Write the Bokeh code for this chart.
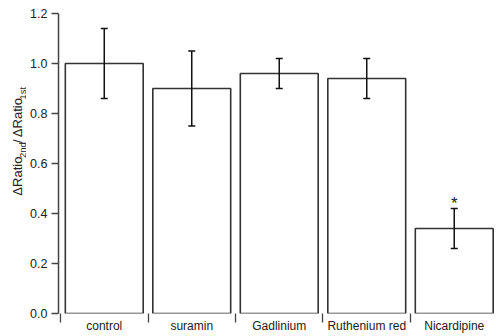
import math
from bokeh.plotting import figure
from bokeh.layouts import row
from bokeh.models import (Range1d, FixedTicker, ColumnDataSource, Whisker, TeeHead,
                          NumeralTickFormatter)
from bokeh.core.properties import value
from bokeh.embed import file_html
from bokeh.resources import INLINE

# ---- data ----
categories = ["control", "suramin", "Gadlinium", "Ruthenium red", "Nicardipine"]
means = [1.00, 0.90, 0.96, 0.94, 0.34]
errors = [0.14, 0.15, 0.06, 0.08, 0.08]
significant = [False, False, False, False, True]
y_ticks = [0.0, 0.2, 0.4, 0.6, 0.8, 1.0, 1.2]
y_label_pieces = ["\u0394Ratio", "2nd", "/", "\u0394Ratio", "1st"]
y_label_is_sub = [False, True, False, False, True]

FONT = "Liberation Sans"
INK = "#222222"
W, H = 496, 336
LABEL_W = 26

xs = [i + 0.5 for i in range(len(categories))]
upper = [m + e for m, e in zip(means, errors)]
lower = [m - e for m, e in zip(means, errors)]
src = ColumnDataSource(dict(x=xs, top=means, upper=upper, lower=lower))

p = figure(width=W - LABEL_W, height=H, output_backend="svg", toolbar_location=None,
           x_range=Range1d(-0.023, 4.983), y_range=Range1d(0, 1.2),
           min_border_left=58 - LABEL_W, min_border_right=0, min_border_top=13,
           min_border_bottom=23)
p.outline_line_color = None
p.xgrid.grid_line_color = None
p.ygrid.grid_line_color = None
p.background_fill_color = "white"
p.border_fill_color = "white"

p.vbar(x="x", top="top", bottom=0, width=0.89, source=src,
       fill_color="white", line_color="#333333", line_width=1.6)

w = Whisker(base="x", upper="upper", lower="lower", source=src, level="overlay",
            line_color="#111111", line_width=1.5,
            upper_head=TeeHead(size=7, line_color="#111111", line_width=1.5),
            lower_head=TeeHead(size=7, line_color="#111111", line_width=1.5))
p.add_layout(w)

star_x = [x for x, s in zip(xs, significant) if s]
star_y = [u for u, s in zip(upper, significant) if s]
p.text(x=star_x, y=star_y, text=["*"] * len(star_x), text_align="center",
       text_baseline="bottom", y_offset=4, text_font=value(FONT),
       text_font_size="17px", text_color=INK)

# y axis
ya = p.yaxis[0]
ya.ticker = FixedTicker(ticks=y_ticks)
ya.formatter = NumeralTickFormatter(format="0.0")
ya.major_tick_in = 0
ya.major_tick_out = 7
ya.minor_tick_line_color = None
ya.axis_line_color = "#444444"
ya.axis_line_width = 1.5
ya.major_tick_line_color = "#444444"
ya.major_tick_line_width = 1.3
ya.major_label_standoff = 4
ya.major_label_text_font = FONT
ya.major_label_text_font_size = "12.5px"
ya.major_label_text_color = INK

# x axis: labels at centres, ticks at category boundaries
xa = p.xaxis[0]
xa.ticker = FixedTicker(ticks=xs, minor_ticks=list(range(len(categories) + 1)))
xa.major_label_overrides = {x: c for x, c in zip(xs, categories)}
xa.axis_line_color = None
xa.major_tick_line_color = None
xa.major_tick_in = 0
xa.major_tick_out = 0
xa.minor_tick_in = 0
xa.minor_tick_out = 9
xa.minor_tick_line_color = "#444444"
xa.minor_tick_line_width = 1.3
xa.major_label_standoff = -4
xa.major_label_text_font = FONT
xa.major_label_text_font_size = "12px"
xa.major_label_text_color = INK

# narrow side figure that carries the rotated y-axis title (with subscripts)
lf = figure(width=LABEL_W, height=H, output_backend="svg", toolbar_location=None,
            x_range=Range1d(0, LABEL_W), y_range=Range1d(0, H),
            min_border=0, min_border_left=0, min_border_right=0,
            min_border_top=0, min_border_bottom=0)
lf.axis.visible = False
lf.grid.visible = False
lf.outline_line_color = None
lf.border_fill_color = "white"
lf.background_fill_color = "white"

em = {"\u0394": 0.668, "R": 0.722, "a": 0.556, "t": 0.278, "i": 0.222, "o": 0.556,
      "2": 0.556, "n": 0.556, "d": 0.556, "/": 0.278, "1": 0.556, "s": 0.5}
main_size, sub_size = 13.0, 9.5
pos = H - 204.0
for txt, sub in zip(y_label_pieces, y_label_is_sub):
    size = sub_size if sub else main_size
    lf.text(x=[21.5 if sub else 16.5], y=[pos], text=[txt], angle=math.pi / 2,
            text_align="left", text_baseline="middle", text_font=value(FONT),
            text_font_size=f"{size}px", text_color=INK)
    pos += sum(em.get(ch, 0.55) for ch in txt) * size + (3.0 if not sub else 1.0)

layout = row(lf, p, spacing=0)
open("out.html", "w").write(file_html(layout, INLINE))
